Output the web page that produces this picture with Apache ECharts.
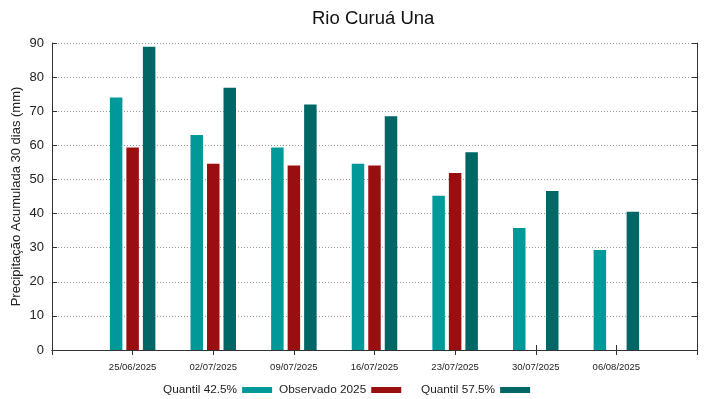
<!DOCTYPE html>
<html>
<head>
<meta charset="utf-8">
<script src="https://cdn.jsdelivr.net/npm/echarts@6/dist/echarts.min.js"></script>
<style>html,body{margin:0;padding:0;background:#fff;}#c{width:719px;height:399px;}</style>
</head>
<body>
<div id="c"></div>
<script>
const dates = ['25/06/2025','02/07/2025','09/07/2025','16/07/2025','23/07/2025','30/07/2025','06/08/2025'];
const q425 = [74, 63, 59.4, 54.6, 45.2, 35.8, 29.3];
const obs2025 = [59.4, 54.6, 54.1, 54.1, 51.9, null, null];
const q575 = [88.9, 76.9, 72.0, 68.5, 58.0, 46.6, 40.5];
const yTicks = [0,10,20,30,40,50,60,70,80,90];

const cats = [''].concat(dates, ['']);
const pad = a => [null].concat(a, [null]);
const font = 'Liberation Sans, Arial, sans-serif';
const colors = ['#009999', '#990f0f', '#006666'];
const names = ['Quantil 42.5%', 'Observado 2025', 'Quantil 57.5%'];

const chart = echarts.init(document.getElementById('c'));
const legendBase = {
  orient: 'horizontal', align: 'right', top: 379, itemWidth: 30, itemHeight: 6,
  icon: 'rect', itemGap: 0,
  textStyle: { fontFamily: font, fontSize: 11.8, color: '#222' }
};
chart.setOption({
  animation: false,
  backgroundColor: '#fff',
  title: { text: 'Rio Curuá Una', left: 307, top: 4,
    textStyle: { fontFamily: font, fontSize: 18.5, fontWeight: 'normal', color: '#111' } },
  legend: [
    Object.assign({}, legendBase, { left: 158, data: [names[0]] }),
    Object.assign({}, legendBase, { left: 274, data: [names[1]] }),
    Object.assign({}, legendBase, { left: 416, data: [names[2]] })
  ],
  grid: { left: 52, right: 22, top: 43, bottom: 49, outerBoundsMode: 'none', containLabel: false },
  xAxis: [
    { type: 'category', data: cats, boundaryGap: false, position: 'bottom',
      axisLine: { lineStyle: { color: '#333', width: 1 } },
      axisTick: { inside: true, length: 5, lineStyle: { color: '#333' } },
      axisLabel: { fontFamily: font, fontSize: 9.5, color: '#222', margin: 12, interval: 0 },
      splitLine: { show: false } },
    { type: 'category', data: cats, boundaryGap: false, position: 'top',
      axisLine: { lineStyle: { color: '#333', width: 1 } },
      axisTick: { inside: true, length: 5, lineStyle: { color: '#333' } },
      axisLabel: { show: false } }
  ],
  yAxis: [
    { type: 'value', min: 0, max: 90, interval: 10, position: 'left',
      name: 'Precipitação Acumulada 30 dias (mm)', nameLocation: 'middle', nameGap: 29,
      nameMoveOverlap: false,
      nameTextStyle: { fontFamily: font, fontSize: 13, color: '#222' },
      axisLine: { show: true, lineStyle: { color: '#333' } },
      axisTick: { show: true, inside: true, length: 5, lineStyle: { color: '#333' } },
      axisLabel: { fontFamily: font, fontSize: 13, color: '#222', margin: 8,
        formatter: v => yTicks.includes(v) ? String(v) : '' },
      splitLine: { show: true, lineStyle: { type: [1, 2], color: '#999', width: 1 } } },
    { type: 'value', min: 0, max: 90, interval: 10, position: 'right',
      axisLine: { show: true, lineStyle: { color: '#333' } },
      axisTick: { show: true, inside: true, length: 5, lineStyle: { color: '#333' } },
      axisLabel: { show: false }, splitLine: { show: false } }
  ],
  series: [
    { name: names[0], type: 'bar', data: pad(q425), barWidth: 12.5, barGap: '32%',
      itemStyle: { color: colors[0] } },
    { name: names[1], type: 'bar', data: pad(obs2025), barWidth: 12.5, barGap: '32%',
      itemStyle: { color: colors[1] } },
    { name: names[2], type: 'bar', data: pad(q575), barWidth: 12.5, barGap: '32%',
      itemStyle: { color: colors[2] } }
  ]
});
</script>
</body>
</html>
